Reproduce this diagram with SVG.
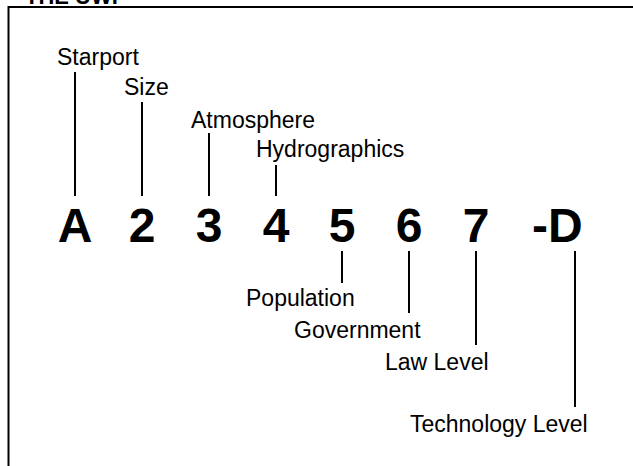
<svg xmlns="http://www.w3.org/2000/svg" width="633" height="466" viewBox="0 0 633 466">
<style>
.lbl{font-family:"Liberation Sans",Arial,sans-serif;font-size:23px;fill:#000}
.big{font-family:"Liberation Sans",Arial,sans-serif;font-size:48px;font-weight:bold;fill:#000;text-anchor:middle}
.ttl{font-family:"Liberation Sans",Arial,sans-serif;font-size:22px;font-weight:bold;fill:#000}
.ln{stroke:#000;stroke-width:2;fill:none}
</style>
<rect width="633" height="466" fill="#fff"/>
<text class="ttl" x="25" y="4">THE UWP</text>
<path class="ln" d="M8.5,466 V7 H633"/>
<g id="connectors">
<line class="ln" x1="75" y1="72" x2="75" y2="196"/>
<line class="ln" x1="142" y1="102" x2="142" y2="196"/>
<line class="ln" x1="209" y1="133" x2="209" y2="196"/>
<line class="ln" x1="276" y1="165" x2="276" y2="196"/>
<line class="ln" x1="342" y1="251" x2="342" y2="283"/>
<line class="ln" x1="409" y1="251" x2="409" y2="313"/>
<line class="ln" x1="476" y1="251" x2="476" y2="345"/>
<line class="ln" x1="575" y1="251" x2="575" y2="407"/>
</g>
<g id="starport"><text class="big" x="75" y="242">A</text><text class="lbl" x="57" y="65">Starport</text></g>
<g id="size"><text class="big" x="142" y="242">2</text><text class="lbl" x="124" y="95">Size</text></g>
<g id="atmosphere"><text class="big" x="209" y="242">3</text><text class="lbl" x="191" y="128">Atmosphere</text></g>
<g id="hydrographics"><text class="big" x="276" y="242">4</text><text class="lbl" x="256" y="157">Hydrographics</text></g>
<g id="population"><text class="big" x="342" y="242">5</text><text class="lbl" x="246" y="306">Population</text></g>
<g id="government"><text class="big" x="409" y="242">6</text><text class="lbl" x="294" y="338">Government</text></g>
<g id="lawlevel"><text class="big" x="476" y="242">7</text><text class="lbl" x="385" y="370">Law Level</text></g>
<g id="techlevel"><text class="big" x="532" y="242" style="text-anchor:start">-D</text><text class="lbl" x="410" y="432">Technology Level</text></g>
</svg>
